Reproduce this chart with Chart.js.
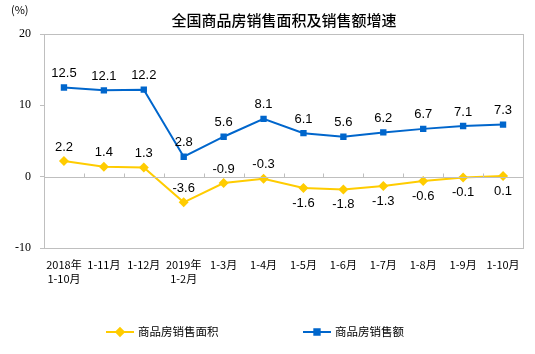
<!DOCTYPE html>
<html>
<head>
<meta charset="utf-8">
<script src="https://cdn.jsdelivr.net/npm/chart.js@4/dist/chart.umd.min.js"></script>
<style>
  html, body { margin: 0; padding: 0; background: #fff; }
  #wrap { width: 535px; height: 354px; }
</style>
</head>
<body>
<div id="wrap"><canvas id="chart1" width="535" height="354"></canvas></div>
<script>
// categories (two-line labels where the year is shown)
const categories = [
  ['2018年', '1-10月'], '1-11月', '1-12月', ['2019年', '1-2月'], '1-3月', '1-4月',
  '1-5月', '1-6月', '1-7月', '1-8月', '1-9月', '1-10月',
];

// series values (%)
const areaGrowth = [2.2, 1.4, 1.3, -3.6, -0.9, -0.3, -1.6, -1.8, -1.3, -0.6, -0.1, 0.1];
const salesGrowth = [12.5, 12.1, 12.2, 2.8, 5.6, 8.1, 6.1, 5.6, 6.2, 6.7, 7.1, 7.3];

const yTicks = [-10, 0, 10, 20];

const chartTitle = '全国商品房销售面积及销售额增速';

// which area labels sit under the point
const areaLabelBelow = [false, false, false, false, false, false, true, true, true, true, true, true];

const YELLOW = '#FFCC00';
const BLUE = '#0066CC';
const GREY = '#BFBFBF';

// title, box, zero line with little ticks, value labels, unit and legend
const decorPlugin = {
  id: 'decor',
  afterDatasetsDraw(chart) {
    const { ctx, chartArea: a, scales } = chart;
    const x = scales.x;
    const y = scales.y;
    ctx.save();

    // title
    ctx.font = '500 15px "Noto Sans CJK SC", sans-serif';
    ctx.fillStyle = '#000';
    ctx.textAlign = 'center';
    ctx.textBaseline = 'middle';
    ctx.fillText(chartTitle, 284, 20);

    // box round the plot
    ctx.strokeStyle = GREY;
    ctx.lineWidth = 1;
    ctx.strokeRect(Math.round(a.left) + 0.5, Math.round(a.top) + 0.5,
      Math.round(a.right - a.left), Math.round(a.bottom - a.top));

    // zero line
    const y0 = Math.round(y.getPixelForValue(0)) + 0.5;
    ctx.beginPath();
    ctx.moveTo(a.left, y0);
    ctx.lineTo(a.right, y0);
    for (let i = 1; i < categories.length; i++) {
      const bx = Math.round((x.getPixelForValue(i - 1) + x.getPixelForValue(i)) / 2) + 0.5;
      ctx.moveTo(bx, y0);
      ctx.lineTo(bx, y0 - 4);
    }
    ctx.stroke();

    // value labels
    ctx.font = '13px "Liberation Sans", Arial, sans-serif';
    chart.getDatasetMeta(1).data.forEach((pt, i) => {
      ctx.fillText(salesGrowth[i].toFixed(1), pt.x, pt.y - 14);
    });
    chart.getDatasetMeta(0).data.forEach((pt, i) => {
      const dy = areaLabelBelow[i] ? 15 : -14;
      ctx.fillText(areaGrowth[i].toFixed(1), pt.x, pt.y + dy);
    });

    // unit
    ctx.font = '11px "Noto Sans CJK SC", sans-serif';
    ctx.textAlign = 'left';
    ctx.fillText('(%)', 11, 10);

    // legend
    ctx.font = '11.5px "Noto Sans CJK SC", sans-serif';
    const ly = 332;
    const items = [[0, 106, 3.8], [1, 303, 3.8]];
    items.forEach(([di, lx, r]) => {
      const ds = chart.data.datasets[di];
      ctx.strokeStyle = ds.borderColor;
      ctx.lineWidth = 2;
      ctx.beginPath();
      ctx.moveTo(lx, ly);
      ctx.lineTo(lx + 28, ly);
      ctx.stroke();
      Chart.helpers.drawPoint(ctx, { pointStyle: ds.pointStyle, radius: r, borderWidth: 1 }, lx + 14, ly);
      ctx.fillStyle = ds.borderColor;
      ctx.fill();
      ctx.fillStyle = '#000';
      ctx.fillText(ds.label, lx + 32, ly);
    });

    ctx.restore();
  },
};

const chartdata1 = {
  labels: categories,
  datasets: [
    {
      label: '商品房销售面积',
      data: areaGrowth,
      borderColor: YELLOW,
      backgroundColor: YELLOW,
      borderWidth: 2,
      pointStyle: 'rectRot',
      pointRadius: 5,
      pointBorderWidth: 0,
      tension: 0,
    },
    {
      label: '商品房销售额',
      data: salesGrowth,
      borderColor: BLUE,
      backgroundColor: BLUE,
      borderWidth: 2,
      pointStyle: 'rect',
      pointRadius: 4.5,
      pointBorderWidth: 0,
      tension: 0,
    },
  ],
};

const chartconfig1 = {
  type: 'line',
  data: chartdata1,
  plugins: [decorPlugin],
  options: {
    responsive: false,
    animation: false,
    layout: { padding: { left: 0, right: 12, top: 34, bottom: 0 } },
    scales: {
      x: {
        grid: { display: false, drawTicks: false },
        border: { display: false },
        offset: true,
        afterFit: (s) => { s.height = 106; },
        ticks: {
          padding: 9,
          maxRotation: 0,
          autoSkip: false,
          color: '#000',
          font: { family: '"Noto Sans CJK SC", sans-serif', size: 11, lineHeight: 1.35 },
        },
      },
      y: {
        min: -10,
        max: 20,
        afterFit: (s) => { s.width = 44; },
        afterBuildTicks: (s) => { s.ticks = yTicks.map((v) => ({ value: v })); },
        grid: { drawOnChartArea: false, tickLength: 4, color: GREY },
        border: { color: GREY },
        ticks: {
          padding: 9,
          color: '#000',
          font: { family: '"Liberation Serif", "Times New Roman", serif', size: 12 },
        },
      },
    },
    plugins: {
      legend: { display: false },
      tooltip: { enabled: false },
      title: { display: false },
    },
  },
};

const chart1 = new Chart('chart1', chartconfig1);
</script>
</body>
</html>
